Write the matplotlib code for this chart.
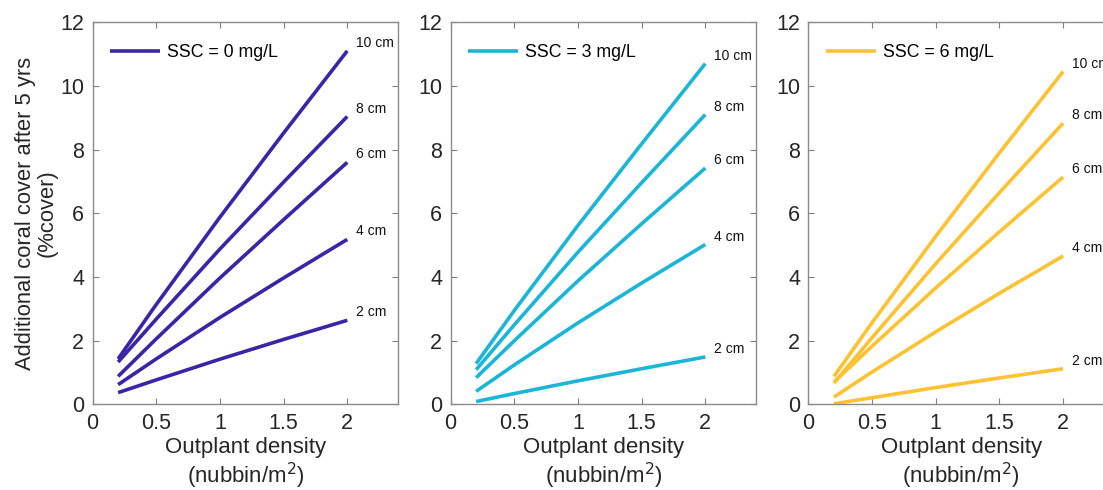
import matplotlib
matplotlib.use('Agg')
import matplotlib.pyplot as plt

plt.rcParams['font.family'] = ['Liberation Sans', 'DejaVu Sans']

# outplant density (nubbin/m2)
density = [0.2, 0.5, 1.0, 1.5, 2.0]
sizes = ['10 cm', '8 cm', '6 cm', '4 cm', '2 cm']
ssc_labels = ['SSC = 0 mg/L', 'SSC = 3 mg/L', 'SSC = 6 mg/L']
colors = ['#3B24A6', '#1BB5D8', '#FDC232']

# additional coral cover after 5 yrs (%), one list per nubbin size
ssc0 = [
    [1.43, 3.14, 5.88, 8.52, 11.1],
    [1.33, 2.68, 4.88, 6.98, 9.04],
    [0.88, 2.06, 3.97, 5.80, 7.60],
    [0.62, 1.43, 2.73, 3.97, 5.18],
    [0.37, 0.77, 1.42, 2.04, 2.64],
]
ssc3 = [
    [1.28, 2.95, 5.62, 8.18, 10.7],
    [1.09, 2.50, 4.78, 6.96, 9.10],
    [0.84, 2.00, 3.88, 5.67, 7.42],
    [0.41, 1.24, 2.56, 3.81, 5.02],
    [0.09, 0.34, 0.74, 1.12, 1.49],
]
ssc6 = [
    [0.88, 2.57, 5.28, 7.90, 10.45],
    [0.67, 2.10, 4.42, 6.65, 8.83],
    [0.70, 1.83, 3.66, 5.42, 7.14],
    [0.23, 1.02, 2.28, 3.49, 4.66],
    [0.02, 0.21, 0.53, 0.83, 1.12],
]
panels = [ssc0, ssc3, ssc6]

fig = plt.figure(figsize=(11.03, 4.9), dpi=100)
lefts = [0.084, 0.4086, 0.733]

for i, data in enumerate(panels):
    ax = fig.add_axes([lefts[i], 0.1747, 0.277, 0.780])
    for j, series in enumerate(data):
        line, = ax.plot(density, series, color=colors[i], lw=2.6,
                        solid_capstyle='butt')
        ax.text(density[-1] + 0.07, series[-1] + 0.25, sizes[j],
                fontsize=10, color='#111111', va='center', ha='left',
                clip_on=False)
    ax.legend([line], [ssc_labels[i]], loc='upper left', frameon=False,
              fontsize=12.8, handlelength=2.8, handletextpad=0.4,
              borderaxespad=0.6, bbox_to_anchor=(0.0, 0.99))
    ax.set_xlim(0, 2.4)
    ax.set_ylim(0, 12)
    ax.set_xticks([0, 0.5, 1, 1.5, 2])
    ax.set_xticklabels(['0', '0.5', '1', '1.5', '2'])
    ax.set_yticks(range(0, 13, 2))
    ax.tick_params(direction='in', top=True, right=True, length=4,
                   labelsize=15.5, colors='#7f7f7f', labelcolor='#262626', pad=6)
    for s in ax.spines.values():
        s.set_color('#8a8a8a')
        s.set_linewidth(1.0)
    ax.set_xlabel('Outplant density\n(nubbin/m$^2$)', fontsize=16,
                  color='#262626', linespacing=1.15, labelpad=2)
    if i == 0:
        ax.set_ylabel('Additional coral cover after 5 yrs\n(%cover)',
                      fontsize=15.8, color='#262626', linespacing=1.05,
                      labelpad=2)

fig.savefig('out.png', dpi=100)
